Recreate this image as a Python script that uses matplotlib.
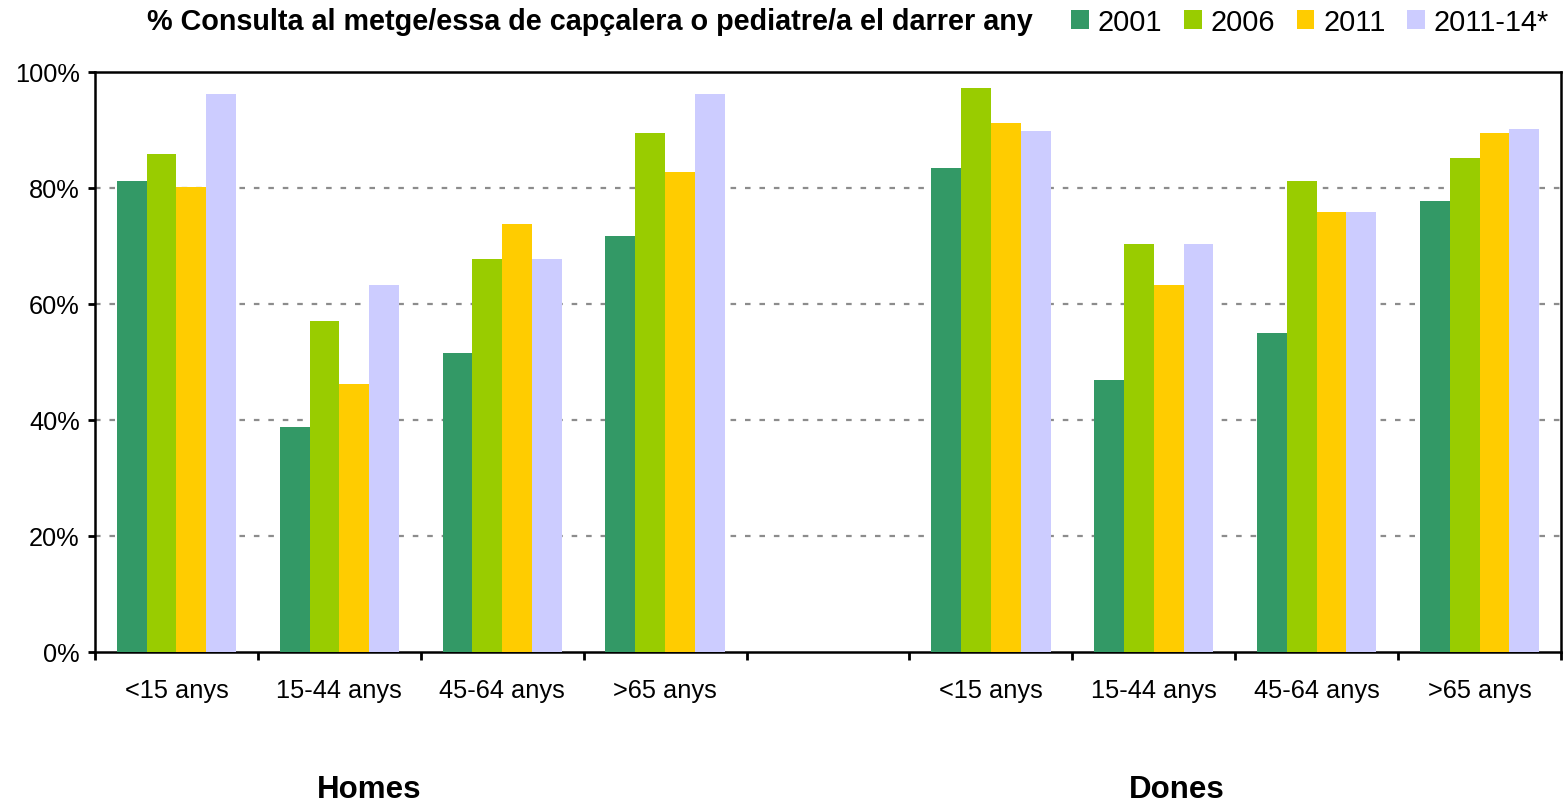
import matplotlib
matplotlib.use("Agg")
import matplotlib.pyplot as plt
import numpy as np

plt.rcParams['font.family'] = ['Liberation Sans', 'DejaVu Sans']

categories = ["<15 anys", "15-44 anys", "45-64 anys", ">65 anys", "",
              "<15 anys", "15-44 anys", "45-64 anys", ">65 anys"]
series_names = ["2001", "2006", "2011", "2011-14*"]
colors = ["#339966", "#99CC00", "#FFCC00", "#CCCCFF"]

v2001 = [81.2, 38.8, 51.6, 71.7, np.nan, 83.4, 46.9, 55.0, 77.8]
v2006 = [85.9, 57.1, 67.8, 89.5, np.nan, 97.2, 70.3, 81.2, 85.2]
v2011 = [80.2, 46.2, 73.8, 82.8, np.nan, 91.2, 63.3, 75.9, 89.5]
v2011_14 = [96.2, 63.3, 67.8, 96.2, np.nan, 89.8, 70.3, 75.9, 90.2]
values = [v2001, v2006, v2011, v2011_14]

fig = plt.figure(figsize=(15.67, 8.04), dpi=100)
ax = fig.add_axes([95/1567, 1-653/804, (1561-95)/1567, (653-73)/804])

x = np.arange(len(categories))
bw = 0.183
handles = []
for i, (name, vals, c) in enumerate(zip(series_names, values, colors)):
    h = ax.bar(x + (i - 1.5) * bw, vals, width=bw, color=c, label=name, zorder=3)
    handles.append(h)

ax.set_xlim(-0.5, len(categories) - 0.5)
ax.set_ylim(0, 100)
ax.set_yticks([0, 20, 40, 60, 80, 100])
ax.set_yticklabels(["0%", "20%", "40%", "60%", "80%", "100%"], fontsize=18.3)
for yv in [20, 40, 60, 80]:
    ax.axhline(yv, color="#8c8c8c", lw=1.6, linestyle=(0, (2.5, 4)), zorder=1)

ax.set_xticks(np.arange(-0.5, len(categories)))
ax.set_xticklabels([])
ax.set_xticks(x, minor=True)
ax.set_xticklabels(categories, minor=True, fontsize=18.3)
ax.tick_params(axis='x', which='major', length=6, width=2, direction='out')
ax.tick_params(axis='x', which='minor', length=0, pad=19)
ax.tick_params(axis='y', length=5, width=2, direction='out', pad=6)

for s in ax.spines.values():
    s.set_color("black")
    s.set_linewidth(1.8)

fig.text(590/1567, 1-22/804, "% Consulta al metge/essa de capçalera o pediatre/a el darrer any",
         ha="center", va="center", fontsize=20.7, fontweight="bold")

fig.legend(handles=handles, labels=series_names, loc="center right",
           bbox_to_anchor=(1549/1567, 1-23/804), ncol=4, frameon=False,
           fontsize=20.8, handlelength=0.62, handleheight=0.62,
           handletextpad=0.3, columnspacing=0.75, borderaxespad=0, borderpad=0)

fig.text(369/1567, 1-790/804, "Homes", ha="center", va="center", fontsize=22.5, fontweight="bold")
fig.text(1177/1567, 1-790/804, "Dones", ha="center", va="center", fontsize=22.5, fontweight="bold")

fig.savefig("out.png", dpi=100)
